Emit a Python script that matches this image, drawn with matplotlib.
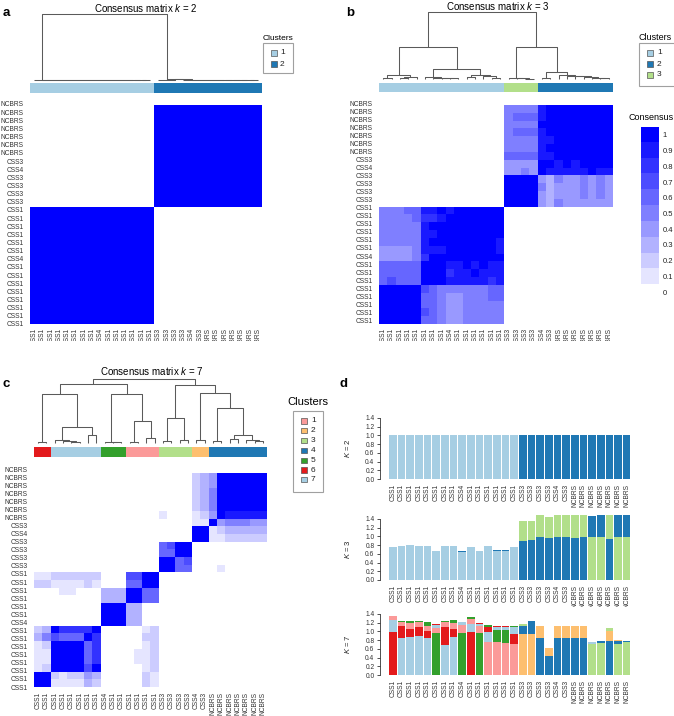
import numpy as np
import matplotlib
matplotlib.use('Agg')
import matplotlib.pyplot as plt
from matplotlib.colors import ListedColormap
from matplotlib.patches import Rectangle

plt.rcParams['font.family'] = ['Liberation Sans', 'DejaVu Sans']
plt.rcParams['mathtext.fontset'] = 'custom'
plt.rcParams['mathtext.rm'] = 'Liberation Sans'
plt.rcParams['mathtext.it'] = 'Liberation Sans:italic'

# ------------------------------------------------------------------ data
col_labels = ['CSS1', 'CSS1', 'CSS1', 'CSS1', 'CSS1', 'CSS1', 'CSS1', 'CSS1', 'CSS4',
              'CSS1', 'CSS1', 'CSS1', 'CSS1', 'CSS1', 'CSS1',
              'CSS3', 'CSS3', 'CSS3', 'CSS3', 'CSS4', 'CSS3',
              'NCBRS', 'NCBRS', 'NCBRS', 'NCBRS', 'NCBRS', 'NCBRS', 'NCBRS']
row_labels = col_labels[::-1]

# cluster colours (RColorBrewer "Paired" order used by ConsensusClusterPlus)
cluster_colors = {1: '#A6CEE3', 2: '#1F78B4', 3: '#B2DF8A', 4: '#33A02C',
                  5: '#FB9A99', 6: '#E31A1C', 7: '#FDBF6F'}
k7_colors = {1: '#FB9A99', 2: '#FDBF6F', 3: '#B2DF8A', 4: '#1F78B4',
             5: '#33A02C', 6: '#E31A1C', 7: '#A6CEE3'}

k2_clusters = [1, 1, 1, 1, 1, 1, 1, 1, 1, 1, 1, 1, 1, 1, 1,
               2, 2, 2, 2, 2, 2, 2, 2, 2, 2, 2, 2, 2]
k3_clusters = [1, 1, 1, 1, 1, 1, 1, 1, 1, 1, 1, 1, 1, 1, 1,
               3, 3, 3, 3, 2, 2, 2, 2, 2, 2, 2, 2, 2]
k7_clusters = [6, 6, 7, 7, 7, 7, 7, 7, 5, 5, 5, 1, 1, 1, 1,
               3, 3, 3, 3, 2, 2, 4, 4, 4, 4, 4, 4, 4]

# consensus levels (0..9, X = 1.0), rows as displayed top -> bottom
cons_k2 = [
    "000000000000000XXXXXXXXXXXXX",
    "000000000000000XXXXXXXXXXXXX",
    "000000000000000XXXXXXXXXXXXX",
    "000000000000000XXXXXXXXXXXXX",
    "000000000000000XXXXXXXXXXXXX",
    "000000000000000XXXXXXXXXXXXX",
    "000000000000000XXXXXXXXXXXXX",
    "000000000000000XXXXXXXXXXXXX",
    "000000000000000XXXXXXXXXXXXX",
    "000000000000000XXXXXXXXXXXXX",
    "000000000000000XXXXXXXXXXXXX",
    "000000000000000XXXXXXXXXXXXX",
    "000000000000000XXXXXXXXXXXXX",
    "XXXXXXXXXXXXXXX0000000000000",
    "XXXXXXXXXXXXXXX0000000000000",
    "XXXXXXXXXXXXXXX0000000000000",
    "XXXXXXXXXXXXXXX0000000000000",
    "XXXXXXXXXXXXXXX0000000000000",
    "XXXXXXXXXXXXXXX0000000000000",
    "XXXXXXXXXXXXXXX0000000000000",
    "XXXXXXXXXXXXXXX0000000000000",
    "XXXXXXXXXXXXXXX0000000000000",
    "XXXXXXXXXXXXXXX0000000000000",
    "XXXXXXXXXXXXXXX0000000000000",
    "XXXXXXXXXXXXXXX0000000000000",
    "XXXXXXXXXXXXXXX0000000000000",
    "XXXXXXXXXXXXXXX0000000000000",
]
cons_k2 = cons_k2 + ["XXXXXXXXXXXXXXX0000000000000"]

cons_k3 = [
    "00000000000000055559XXXXXXXX",
    "00000000000000056669XXXXXXXX",
    "0000000000000005555XXXXXXXXX",
    "00000000000000056669XXXXXXXX",
    "000000000000000555599XXXXXXX",
    "00000000000000055559XXXXXXXX",
    "000000000000000666699XXXXXXX",
    "0000000000000004444XX9X9XXXX",
    "0000000000000004454X99999X99",
    "000000000000000XXXX435445454",
    "000000000000000XXXX534445454",
    "000000000000000XXXX434445454",
    "000000000000000XXXX435444444",
    "5556699X9XXXXXX0000000000000",
    "55556889XXXXXXX0000000000000",
    "555559XXXXXXXXX0000000000000",
    "5555599XXXXXXXX0000000000000",
    "555559XXXXXXXX90000000000000",
    "44445999XXXXXX90000000000000",
    "444458XXXXXXXXX0000000000000",
    "66666XXX99X9X990000000000000",
    "66666XXX899X9990000000000000",
    "67666XXX99999890000000000000",
    "XXXXX76555555660000000000000",
    "XXXXX66544555660000000000000",
    "XXXXX66544555550000000000000",
    "XXXXX76544555550000000000000",
    "XXXXX66544555550000000000000",
]

cons_k7 = [
    "0000000000000000000234XXXXXX",
    "0000000000000000000234XXXXXX",
    "0000000000000000000235XXXXXX",
    "0000000000000000000235XXXXXX",
    "0000000000000000000235XXXXXX",
    "0000000000000001000124X99999",
    "000000000000000000011X455544",
    "0000000000000000000XX1233333",
    "0000000000000000000XX1122222",
    "00000000000000067XX000000000",
    "00000000000000066XX000000000",
    "000000000000000XX67000000000",
    "000000000000000XX66000100000",
    "1122222200077XX0000000000000",
    "2211112100066XX0000000000000",
    "00011000333XX660000000000000",
    "00000000333XX660000000000000",
    "00000000XXX330000000000000000"[:28],
    "00000000XXX330000000000000000"[:28],
    "00000000XXX330000000000000000"[:28],
    "23X8888X000001200000000000000"[:28],
    "357666X8000002200000000000000"[:28],
    "12XXXX68000001200000000000000"[:28],
    "11XXXX68000011200000000000000"[:28],
    "11XXXX68000011200000000000000"[:28],
    "12XXXX7X000001200000000000000"[:28],
    "XX212243000002100000000000000"[:28],
    "XX111132000002100000000000000"[:28],
]

# dendrograms: (height, left, right); ints are leaf positions
tree_k2 = (1.0,
           (0.0, 0, (0.0, 1, (0.0, 2, (0.0, 3, (0.0, 4, (0.0, 5, (0.0, 6, (0.0, 7, (0.0, 8,
            (0.0, 9, (0.0, 10, (0.0, 11, (0.0, 12, (0.0, 13, 14)))))))))))))),
           (0.005, 15, (0.01, 16, (0.01, 17, (0.005, 18, (0.0, 19, (0.0, 20, (0.0, 21,
            (0.0, 22, (0.0, 23, (0.0, 24, (0.0, 25, (0.0, 26, 27)))))))))))))
tree_k3 = (1.0,
           (0.48,
            (0.06, (0.02, 0, 1), (0.03, (0.01, 2, 3), 4)),
            (0.15,
             (0.03, 5, (0.02, 6, (0.015, 7, (0.01, 8, 9)))),
             (0.06, (0.03, 10, 11), (0.04, 12, (0.02, 13, 14))))),
           (0.48,
            (0.015, 15, (0.01, 16, (0.005, 17, 18))),
            (0.10, (0.01, 19, 20),
             (0.06, 21, (0.045, 22, (0.04, 23, (0.03, 24, (0.02, 25, (0.01, 26, 27)))))))))
tree_k7 = (1.0,
           (0.92,
            (0.77, (0.02, 0, 1),
             (0.25, (0.05, 2, (0.03, 3, (0.01, 4, 5))), (0.12, 6, 7))),
            (0.76, (0.02, 8, (0.01, 9, 10)),
             (0.34, (0.02, 11, 12), (0.08, 13, 14)))),
           (0.90,
            (0.39, (0.03, 15, 16), (0.04, 17, 18)),
            (0.78, (0.04, 19, 20),
             (0.55, (0.03, 21, 22),
              (0.12, (0.06, 23, 24), (0.05, 25, (0.03, 26, 27)))))))

# item consensus (panel d)
k2_c1 = [1.0] * 15 + [0.0] * 13
k2_c2 = [0.0] * 15 + [1.0] * 13

k3_c1 = [0.75, 0.78, 0.80, 0.78, 0.79, 0.66, 0.77, 0.78, 0.65, 0.75, 0.66, 0.78, 0.67, 0.67, 0.75,
         0, 0, 0, 0, 0, 0, 0, 0, 0, 0, 0, 0, 0]
k3_c2 = [0, 0, 0, 0, 0, 0.012, 0, 0, 0.012, 0, 0.012, 0, 0.012, 0.012, 0,
         0.89, 0.915, 0.977, 0.96, 0.977, 0.977, 0.97, 0.977, 0.49, 0.52, 0.93, 0.52, 0.52]
k3_c3 = [0, 0, 0, 0, 0, 0, 0, 0, 0, 0, 0, 0, 0, 0, 0,
         0.47, 0.445, 0.52, 0.486, 0.51, 0.52, 0.515, 0.52, 0.977, 0.977, 0.57, 0.977, 0.977]

k7_c1 = [0.09, 0.09, 0.13, 0.12, 0.11, 0.11, 0.11, 0.13, 0.18, 0.11, 0.16, 0.75, 0.75, 0.74, 0.70,
         0, 0, 0, 0, 0, 0, 0, 0, 0, 0, 0, 0, 0]
k7_c2 = [0, 0, 0, 0, 0, 0, 0, 0, 0, 0, 0, 0, 0, 0, 0,
         0.95, 0.95, 0.27, 0.17, 0.27, 0.27, 0.26, 0.27, 0, 0, 0.22, 0.02, 0]
k7_c3 = [0, 0, 0, 0, 0, 0, 0, 0, 0, 0, 0, 0, 0, 0, 0,
         0.03, 0, 0, 0, 0, 0, 0, 0, 0.72, 0.74, 0.08, 0.71, 0.75]
k7_c4 = [0, 0, 0, 0, 0, 0, 0, 0, 0, 0, 0, 0, 0, 0, 0,
         0.18, 0.29, 0.86, 0.44, 0.86, 0.86, 0.86, 0.86, 0, 0.03, 0.78, 0.08, 0.02]
k7_c5 = [0, 0.03, 0.04, 0.04, 0.09, 0.96, 0.03, 0.07, 0.97, 0.03, 0.96, 0.03, 0.28, 0.29, 0.03,
         0, 0, 0, 0, 0, 0, 0, 0, 0, 0, 0, 0, 0]
k7_c6 = [0.99, 0.29, 0.19, 0.20, 0.15, 0.01, 0.42, 0.19, 0, 0.99, 0.02, 0.13, 0.03, 0.03, 0.23,
         0, 0, 0, 0, 0, 0, 0, 0, 0, 0, 0, 0, 0]
k7_c7 = [0.27, 0.84, 0.87, 0.89, 0.86, 0.08, 0.68, 0.87, 0.06, 0.19, 0.05, 0.23, 0.07, 0.07, 0.16,
         0, 0, 0, 0, 0, 0, 0, 0, 0.03, 0, 0, 0, 0]

legend_levels = ['1', '0.9', '0.8', '0.7', '0.6', '0.5', '0.4', '0.3', '0.2', '0.1', '0']

# ------------------------------------------------------------------ helpers
W, H = 674, 716
fig = plt.figure(figsize=(W / 100, H / 100), dpi=100)
fig.patch.set_facecolor('white')
N = len(col_labels)
DCOL = '#5a5a5a'
LCOL = '#333333'
cons_cmap = ListedColormap([(1 - i / 10, 1 - i / 10, 1.0) for i in range(11)])


def add_ax(x0, y0, x1, y1):
    return fig.add_axes([x0 / W, 1 - y1 / H, (x1 - x0) / W, (y1 - y0) / H])


def ftext(x, y, s, **kw):
    return fig.text(x / W, 1 - y / H, s, **kw)


def frect(x0, y0, x1, y1, **kw):
    fig.add_artist(Rectangle((x0 / W, 1 - y1 / H), (x1 - x0) / W, (y1 - y0) / H,
                             transform=fig.transFigure, **kw))


def level(ch):
    return 10 if ch == 'X' else int(ch)


def draw_tree(box, tree):
    ax = add_ax(*box)

    def rec(node):
        if isinstance(node, int):
            return float(node), 0.0
        h, a, b = node
        xa, ha = rec(a)
        xb, hb = rec(b)
        ax.plot([xa, xa, xb, xb], [ha, h, h, hb], color=DCOL, lw=0.75,
                solid_capstyle='butt', clip_on=False)
        return (xa + xb) / 2, h

    rec(tree)
    ax.set_xlim(-0.5, N - 0.5)
    ax.set_ylim(-0.02, 1.0)
    ax.axis('off')


def strip(box, clusters, colors, k):
    ax = add_ax(*box)
    cmap = ListedColormap([colors[c] for c in range(1, k + 1)])
    ax.imshow([clusters], cmap=cmap, vmin=0.5, vmax=k + 0.5, aspect='auto',
              interpolation='nearest', extent=(-0.5, N - 0.5, 0, 1))
    ax.axis('off')


def heatmap(box, grid, yr, xpad):
    ax = add_ax(*box)
    M = np.array([[level(ch) for ch in row] for row in grid])
    ax.imshow(M, cmap=cons_cmap, vmin=-0.5, vmax=10.5, aspect='auto',
              interpolation='nearest', extent=(-0.5, N - 0.5, N - 0.5, -0.5))
    ax.set_xlim(-0.5, N - 0.5)
    ax.set_ylim(N - 0.5, -0.5)
    ax.set_yticks(np.linspace(yr[0], yr[1], N))
    ax.set_yticklabels(row_labels)
    ax.set_xticks(np.arange(N))
    ax.set_xticklabels(col_labels, rotation=90)
    ax.tick_params(axis='y', length=0, labelsize=4.8, labelcolor=LCOL, pad=4.5)
    ax.tick_params(axis='x', length=0, labelsize=4.8, labelcolor=LCOL, pad=xpad)
    for s in ax.spines.values():
        s.set_visible(False)
    return ax


def legend(box, title, title_xy, title_fs, entries, colors, sq_x, ys, txt_x, fs):
    frect(*box, facecolor='white', edgecolor='#a0a0a0', lw=0.8)
    ftext(title_xy[0], title_xy[1], title, fontsize=title_fs, ha='center', va='center')
    for e, y in zip(entries, ys):
        frect(sq_x, y - 2.6, sq_x + 5.5, y + 2.6, facecolor=colors[e], edgecolor='#555555', lw=0.5)
        ftext(txt_x, y, str(e), fontsize=fs, ha='left', va='center', color='#222222')


# ------------------------------------------------------------------ panel a
ftext(6, 13, 'a', fontsize=9.5, fontweight='bold', ha='center', va='center')
ftext(146, 8, r'Consensus matrix $\it{k}$ = 2', fontsize=7, ha='center', va='center')
draw_tree((30, 14, 262, 81.3), tree_k2)
strip((30, 83, 262, 93), k2_clusters, cluster_colors, 2)
heatmap((30, 104, 262, 324), cons_k2, (-0.64, 27.5), 3)
legend((263, 43, 293, 73), 'Clusters', (278, 38), 6, [1, 2], cluster_colors,
       271, [53, 64], 280, 6)

# ------------------------------------------------------------------ panel b
ftext(350, 13, 'b', fontsize=9.5, fontweight='bold', ha='center', va='center')
ftext(498, 6, r'Consensus matrix $\it{k}$ = 3', fontsize=7, ha='center', va='center')
draw_tree((379, 12, 613, 80.3), tree_k3)
strip((379, 83, 613, 92), k3_clusters, cluster_colors, 3)
heatmap((379, 103, 613, 324), cons_k3, (-0.8, 27.05), 3)
legend((639, 43, 677, 86), 'Clusters', (655, 37), 6.5, [1, 2, 3], cluster_colors,
       647, [53, 64, 75], 657, 6)

ftext(651, 117, 'Consensus', fontsize=6.5, ha='center', va='center')
axc = add_ax(641, 127, 659, 300)
axc.imshow(np.arange(10, -1, -1).reshape(-1, 1), cmap=cons_cmap, vmin=-0.5, vmax=10.5,
           aspect='auto', interpolation='nearest', extent=(0, 1, 10.5, -0.5))
axc.set_ylim(10.5, -0.5)
axc.set_xticks([])
axc.yaxis.tick_right()
axc.set_yticks(np.arange(11))
axc.set_yticklabels(legend_levels)
axc.tick_params(axis='y', length=0, labelsize=5.5, labelcolor='#222222', pad=2.5)
for s in axc.spines.values():
    s.set_visible(False)

# hide the cropped bottom of panels a/b column labels
frect(0, 340.5, W, 358, facecolor='white', edgecolor='none', zorder=50)

# ------------------------------------------------------------------ panel c
ftext(6, 384, 'c', fontsize=9.5, fontweight='bold', ha='center', va='center')
ftext(152, 371, r'Consensus matrix $\it{k}$ = 7', fontsize=7, ha='center', va='center')
draw_tree((34, 379, 267, 444.3), tree_k7)
strip((34, 447, 267, 457), k7_clusters, k7_colors, 7)
heatmap((34, 469, 267, 687), cons_k7, (-1.03, 27.5), 3.5)
legend((293, 411, 323, 492), 'Clusters', (308, 402), 8, [1, 2, 3, 4, 5, 6, 7], k7_colors,
       301, [421, 430.8, 440.6, 450.4, 460.2, 470, 479.8], 311, 6)

# ------------------------------------------------------------------ panel d
ftext(344, 384, 'd', fontsize=9.5, fontweight='bold', ha='center', va='center')


def item_bars(y0, series, colors, klabel):
    # y0 = pixel of value 0 ; 43.6 px per unit ; ylim 0..1.55
    ax = add_ax(380, y0 - 1.55 * 43.6, 631, y0)
    x = np.arange(N)
    for i in x:
        vals = sorted([(s[i], c) for c, s in series if s[i] > 0], key=lambda t: -t[0])
        bottom = 0.0
        for v, c in vals:
            ax.bar(i, v, bottom=bottom, width=0.88, color=colors[c], edgecolor='none')
            bottom += v
    ax.set_xlim(-1.49, N - 0.5)
    ax.set_ylim(0, 1.55)
    ax.set_yticks([0, 0.2, 0.4, 0.6, 0.8, 1.0, 1.2, 1.4])
    ax.set_yticklabels(['0.0', '0.2', '0.4', '0.6', '0.8', '1.0', '1.2', '1.4'])
    ax.set_xticks(x)
    ax.set_xticklabels(col_labels, rotation=90)
    ax.tick_params(axis='x', length=0, labelsize=4.8, labelcolor=LCOL, pad=3.5)
    ax.tick_params(axis='y', length=2.5, width=0.6, color='#333333', labelsize=4.8,
                   labelcolor=LCOL, pad=1.5)
    for s in ['top', 'right', 'bottom']:
        ax.spines[s].set_visible(False)
    ax.spines['left'].set_bounds(0, 1.4)
    ax.spines['left'].set_linewidth(0.6)
    ax.spines['left'].set_color('#333333')
    ax.set_ylabel(klabel, fontsize=5.5, color='#222222')
    ax.yaxis.set_label_coords(-28 / 251, 0.7 / 1.55)


item_bars(479, [(1, k2_c1), (2, k2_c2)], cluster_colors, r'$\it{K}$ = 2')
item_bars(580, [(1, k3_c1), (2, k3_c2), (3, k3_c3)], cluster_colors, r'$\it{K}$ = 3')
item_bars(675, [(1, k7_c1), (2, k7_c2), (3, k7_c3), (4, k7_c4), (5, k7_c5), (6, k7_c6),
                (7, k7_c7)], k7_colors, r'$\it{K}$ = 7')

fig.savefig('out.png', dpi=100, facecolor='white')
